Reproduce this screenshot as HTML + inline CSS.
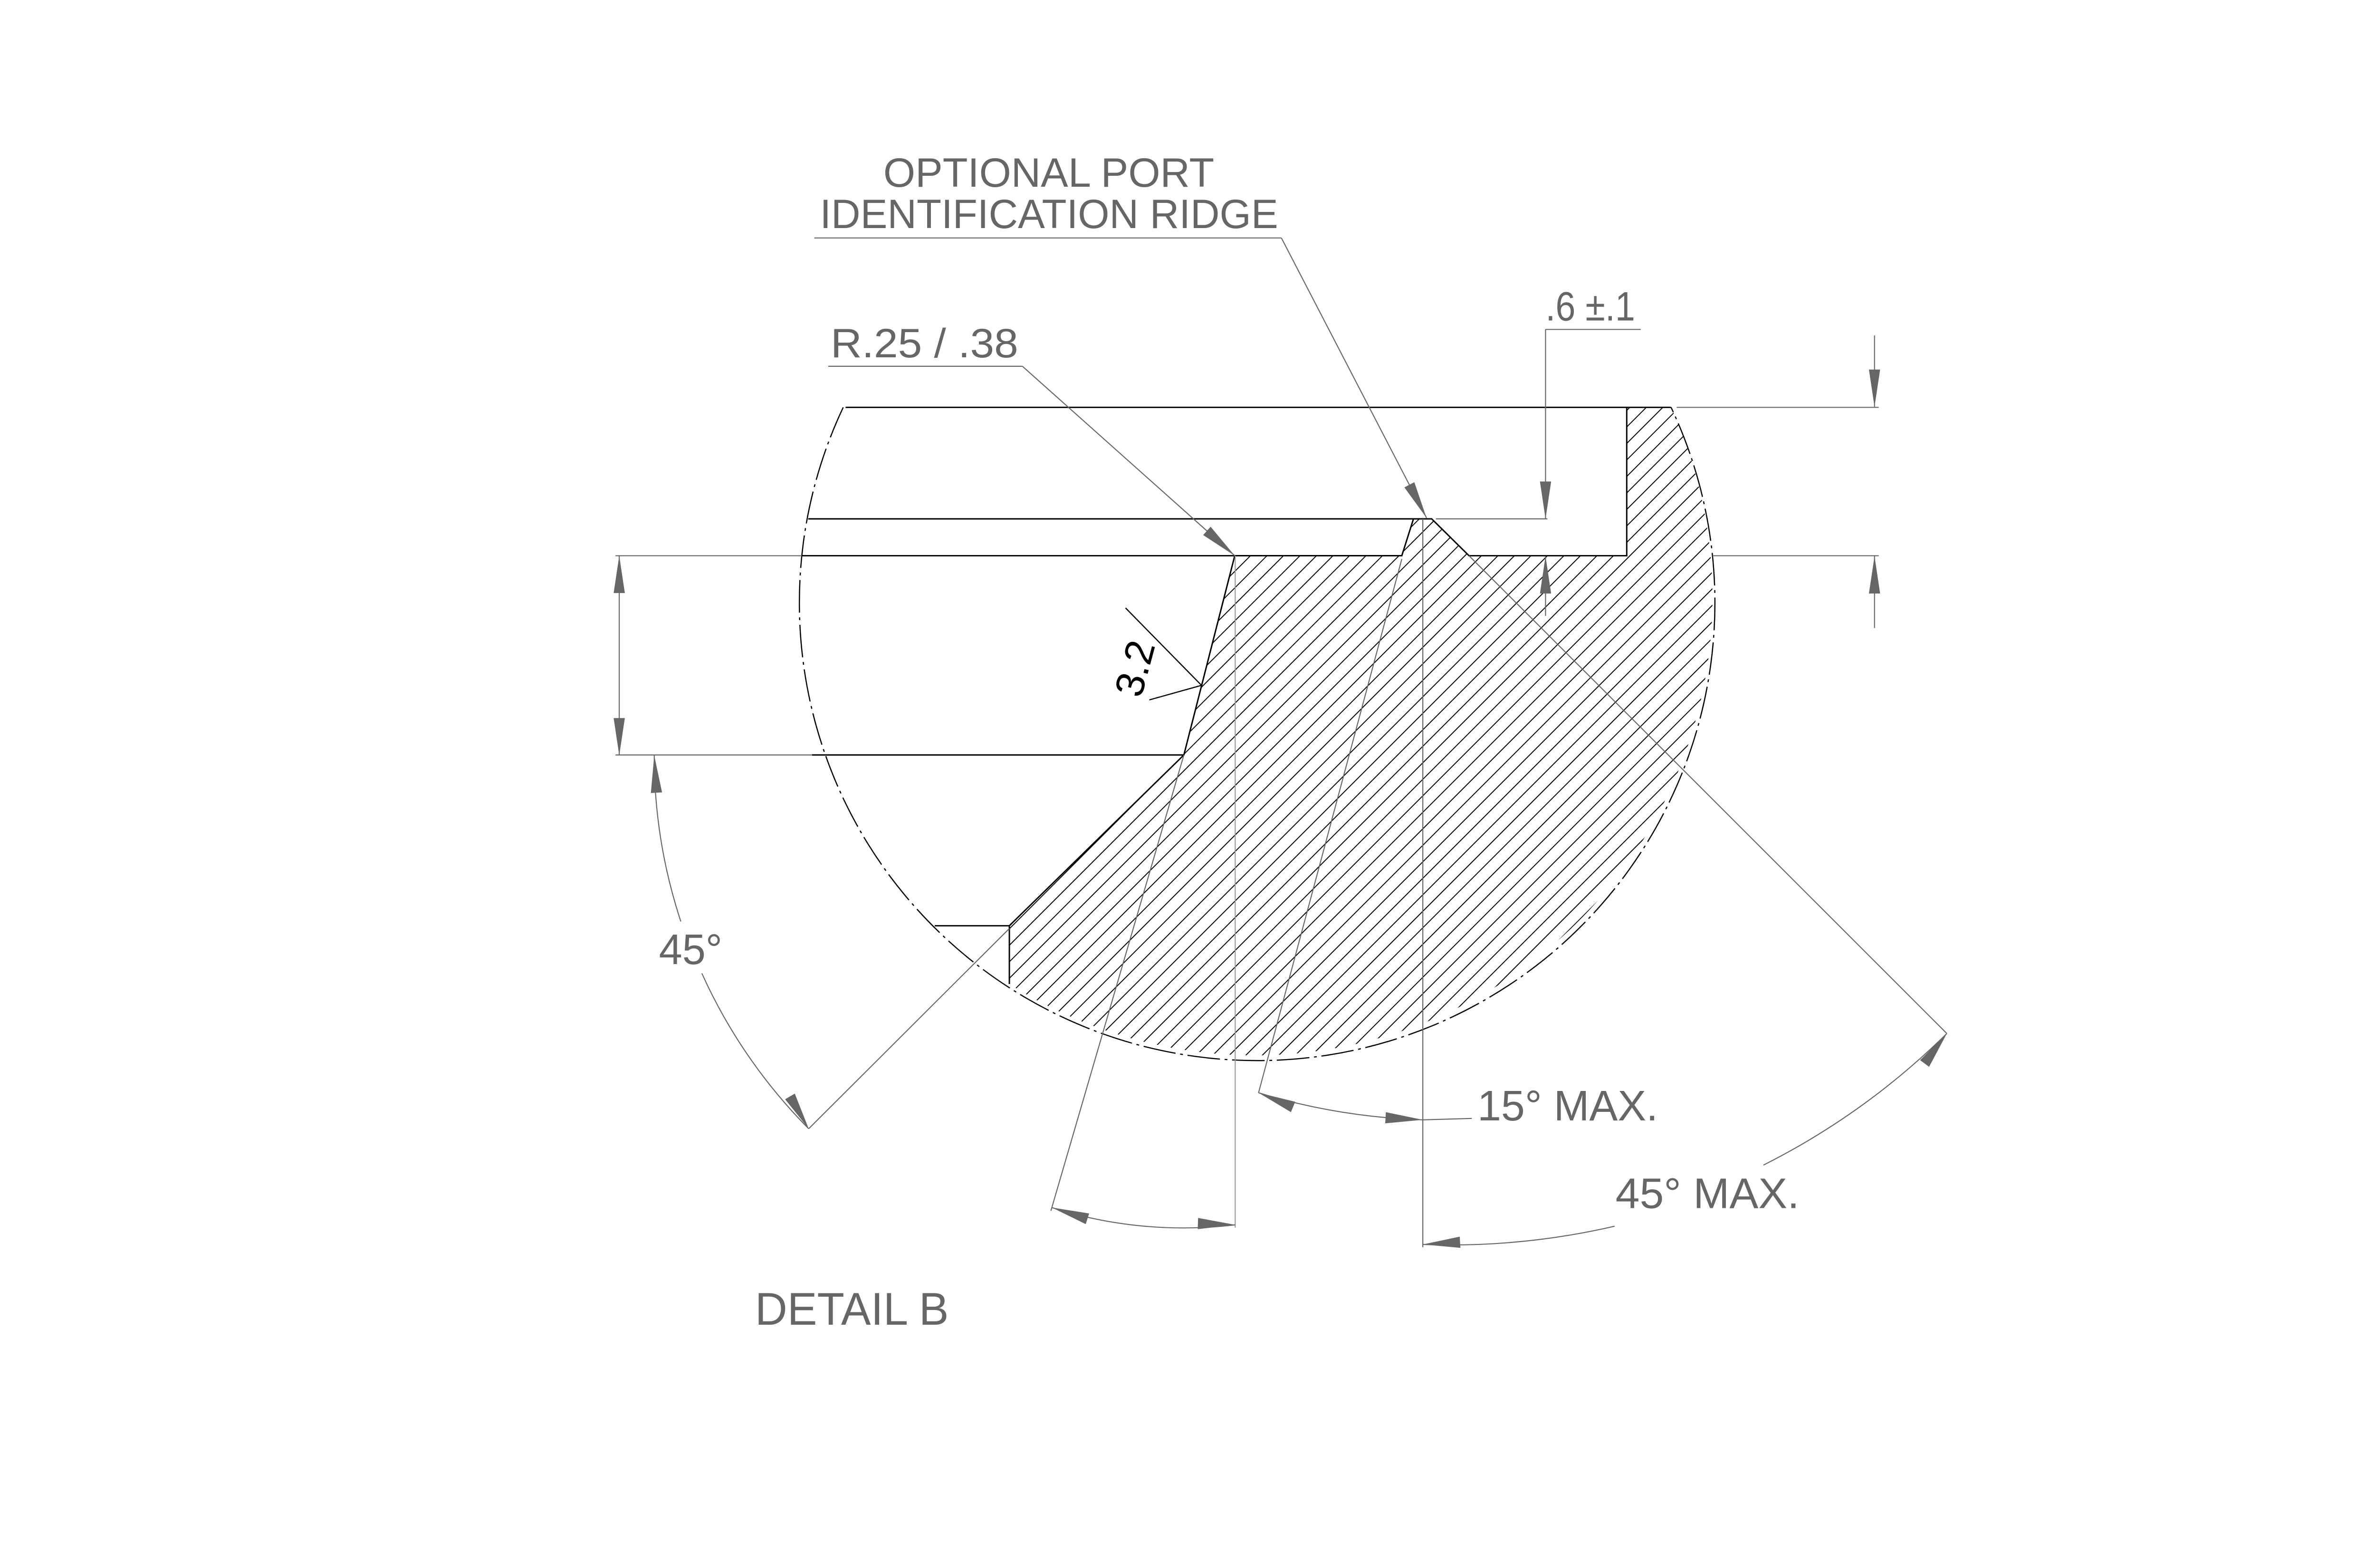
<!DOCTYPE html>
<html><head><meta charset="utf-8"><style>
html,body{margin:0;padding:0;background:#fff;}
svg{display:block;}
text{font-family:"Liberation Sans",sans-serif;fill:#666;}
</style></head><body>
<svg id="dwg" width="5100" height="3300" viewBox="0 0 5100 3300" xmlns="http://www.w3.org/2000/svg">
<defs>
<pattern id="hatch" patternUnits="userSpaceOnUse" width="25" height="25" patternTransform="rotate(-45)">
<line x1="0" y1="12" x2="25" y2="12" stroke="#000" stroke-width="2"/>
</pattern>
</defs>
<rect width="5100" height="3300" fill="#fff"/>
<g transform="scale(0.982)">

<path d="M2646,1191 L3004,1191 L3029,1112 L3068,1112 L3148,1191 L3486,1191 L3486,873 L3581,873 A981,981 0 0 1 2163,2109 L2163,1984 L2537,1618 Z" fill="url(#hatch)" stroke="none"/>
<path d="M2646,1191 L3004,1191 L3029,1112 L3068,1112 L3148,1191 L3486,1191 L3486,873 M2163,2109 L2163,1984 L2537,1618 L2646,1191" fill="none" stroke="#000" stroke-width="3"/>

<path d="M1807,873 A981,981 0 1 0 3581,873" fill="none" stroke="#000" stroke-width="2.5" stroke-dasharray="70,10,6,10"/>

<g stroke="#000" stroke-width="3">
<line x1="1812" y1="873" x2="3581" y2="873"/>
<line x1="1732" y1="1112" x2="3029" y2="1112"/>
<line x1="1718" y1="1191" x2="3004" y2="1191"/>
<line x1="1740" y1="1618" x2="2537" y2="1618"/>
<line x1="2003" y1="1984" x2="2163" y2="1984"/>
</g>

<g stroke="#666" stroke-width="2.2" fill="none">
<line x1="1319" y1="1191" x2="1718" y2="1191"/>
<line x1="1319" y1="1618" x2="1740" y2="1618"/>
<line x1="3593" y1="873" x2="4026" y2="873"/>
<line x1="3670" y1="1191" x2="4026" y2="1191"/>
<line x1="3077" y1="1112" x2="3316" y2="1112"/>
<line x1="3312" y1="706" x2="3312" y2="1112"/>
<line x1="3312" y1="1192" x2="3312" y2="1320"/>
<line x1="3312" y1="706" x2="3516" y2="706"/>
<line x1="1775" y1="785" x2="2191" y2="785"/>
<line x1="2191" y1="785" x2="2646" y2="1191"/>
<line x1="1745" y1="510" x2="2746" y2="510"/>
<line x1="2746" y1="510" x2="3057" y2="1110"/>
<line x1="4017" y1="719" x2="4017" y2="872"/>
<line x1="4017" y1="1192" x2="4017" y2="1346"/>
<line x1="1327" y1="1191" x2="1327" y2="1619"/>
<line x1="2647" y1="1191" x2="2647" y2="2631" stroke="#999"/>
<line x1="2537" y1="1618" x2="2252" y2="2595"/>
<line x1="3004" y1="1198" x2="2697" y2="2342"/>
<line x1="3049" y1="1112" x2="3049" y2="2673"/>
<line x1="3148" y1="1191" x2="4172" y2="2215"/>
<line x1="1733" y1="2419" x2="2163" y2="1990"/>
<line x1="3049" y1="2400" x2="3154" y2="2397"/>
<path d="M1402,1619 A1135,1135 0 0 0 1459,1975"/>
<path d="M1504,2086 A1135,1135 0 0 0 1733,2419"/>
<path d="M2254,2588 A930,930 0 0 0 2647,2625"/>
<path d="M2697,2342 A1350,1350 0 0 0 3049,2400"/>
<path d="M4172,2215 A1560,1560 0 0 1 3779,2497"/>
<path d="M3460,2628 A1560,1560 0 0 1 3049,2667"/>
</g>

<g stroke="#000" stroke-width="2.5">
<line x1="2412" y1="1303" x2="2574" y2="1468"/>
<line x1="2574" y1="1469" x2="2463" y2="1500"/>
</g>

<g id="arrows" fill="#666"></g>

<text x="1893" y="400" font-size="88" textLength="709" lengthAdjust="spacingAndGlyphs">OPTIONAL PORT</text>
<text x="1757" y="489" font-size="88" textLength="982" lengthAdjust="spacingAndGlyphs">IDENTIFICATION RIDGE</text>
<text x="1780" y="766" font-size="88" textLength="402" lengthAdjust="spacingAndGlyphs">R.25 / .38</text>
<text x="3312" y="687" font-size="88" textLength="192" lengthAdjust="spacingAndGlyphs">.6 ±.1</text>
<text x="0" y="0" font-size="86" style="fill:#000" transform="translate(2445,1498) rotate(-75)">3.2</text>
<text x="1412" y="2066" font-size="92" textLength="136" lengthAdjust="spacingAndGlyphs">45°</text>
<text x="3166" y="2401" font-size="92" textLength="387" lengthAdjust="spacingAndGlyphs">15° MAX.</text>
<text x="3462" y="2589" font-size="92" textLength="394" lengthAdjust="spacingAndGlyphs">45° MAX.</text>
<text x="1618" y="2839" font-size="98" textLength="415" lengthAdjust="spacingAndGlyphs">DETAIL B</text>
</g>
</svg>
<script>
var g=document.getElementById('arrows');
function arrow(tx,ty,fx,fy,name){
  var dx=fx-tx,dy=fy-ty,l=Math.sqrt(dx*dx+dy*dy);dx/=l;dy/=l;
  var L=80,W=12;
  var bx=tx+dx*L,by=ty+dy*L;
  var p=document.createElementNS('http://www.w3.org/2000/svg','polygon');
  p.setAttribute('points',tx+','+ty+' '+(bx-dy*W)+','+(by+dx*W)+' '+(bx+dy*W)+','+(by-dx*W));
  
  
  g.appendChild(p);
}
arrow(2646,1191,2191,785,'radius-arrow');
arrow(3057,1110,2746,510,'ridge-leader-arrow');
arrow(3312,1112,3312,900,'ridge-height-arrow-top');
arrow(3312,1192,3312,1400,'ridge-height-arrow-bottom');
arrow(4017,872,4017,700,'right-dim-arrow-top');
arrow(4017,1192,4017,1400,'right-dim-arrow-bottom');
arrow(1327,1191,1327,1400,'left-dim-arrow-top');
arrow(1327,1619,1327,1400,'left-dim-arrow-bottom');
arrow(1402,1619,1408,1720,'chamfer-arrow-top');
arrow(1733,2419,1690,2345,'chamfer-arrow-bottom');
arrow(2254,2588,2330,2612,'flank-arrow-left');
arrow(2647,2625,2560,2622,'flank-arrow-right');
arrow(2697,2342,2770,2372,'draft-arrow-left');
arrow(3049,2400,2960,2395,'draft-arrow-right');
arrow(4172,2215,4120,2285,'ridge-angle-arrow-top');
arrow(3049,2667,3135,2662,'ridge-angle-arrow-bottom');
</script>
</body></html>
